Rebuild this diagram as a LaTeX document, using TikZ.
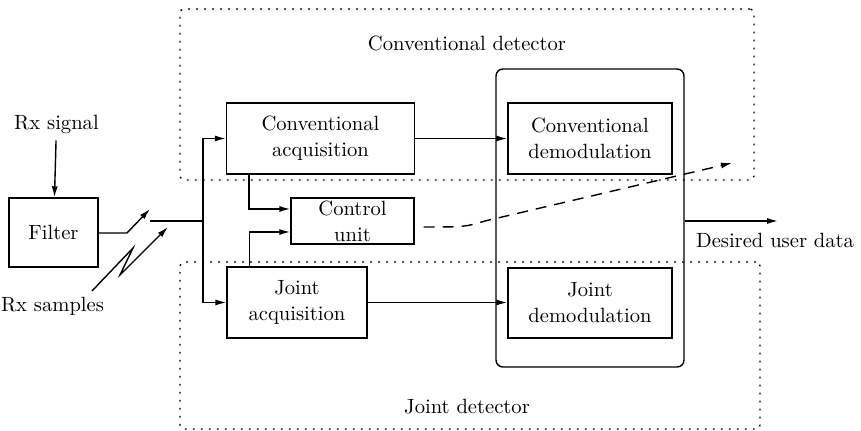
\documentclass[tikz,border=0pt]{standalone}
\usepackage{tikz}
\usetikzlibrary{arrows.meta,positioning}

\begin{document}
\begin{tikzpicture}[
    x=0.5pt, y=-0.5pt,
    font=\fontsize{10.3pt}{13pt}\selectfont,
    blk/.style={draw, line width=0.7pt, align=center, inner sep=0pt},
    det/.style={draw, line width=0.7pt, dash pattern=on 0.9pt off 3.1pt, rounded corners=2pt, inner sep=0pt},
    ln/.style={line width=0.7pt},
    arr/.style={ln, -{Latex[length=5.5pt,width=3pt]}},
    dsh/.style={arr, dash pattern=on 5.5pt off 4pt},
  ]
  \useasboundingbox (0,0) rectangle (861,431);

  % detector regions
  \node[det, minimum width=287pt, minimum height=85.5pt] (convdet) at (467,94.5) {};
  \node[det, minimum width=290pt, minimum height=83.5pt] (jointdet) at (470,345.5) {};
  \node (convlbl) at (467,43) {Conventional detector};
  \node (jointlbl) at (467,407) {Joint detector};

  % front end
  \node (rxsig) at (56.5,124) {Rx signal};
  \node[blk, minimum width=44.5pt, minimum height=34.5pt] (filt) at (53.5,232.5) {Filter};
  \node (rxsmp) at (52.5,306) {Rx samples};

  % acquisition and control
  \node[blk, minimum width=94pt, minimum height=35.5pt] (convacq) at (320.5,138.5) {Conventional\\acquisition};
  \node[blk, minimum width=70pt, minimum height=35.5pt] (jointacq) at (297,302.5) {Joint\\acquisition};
  \node[blk, minimum width=61.5pt, minimum height=23pt] (ctrl) at (352.5,221) {Control\\unit};

  % demodulation
  \node[draw, line width=0.7pt, rounded corners=3.5pt, minimum width=94pt, minimum height=149pt] (dem) at (590,218) {};
  \node[blk, minimum width=82pt, minimum height=35.5pt] (convdem) at (590,138.5) {Conventional\\demodulation};
  \node[blk, minimum width=82pt, minimum height=35pt] (jointdem) at (590,303) {Joint\\demodulation};

  \coordinate (sw) at (127,233);
  \coordinate (swtip) at (150,209);
  \coordinate (busin) at (150,221);
  \coordinate (bus) at (203,221);
  \coordinate (zz0) at (92,291);
  \coordinate (zz1) at (133,248);
  \coordinate (zz2) at (120,275);
  \coordinate (zztip) at (168,227);
  \coordinate (dtip) at (732,163);
  \coordinate (outtip) at (778,221);

  % signal path
  \draw[arr] (rxsig) -- (filt);
  \draw[arr] (filt.east |- sw) -- (sw) -- (swtip);
  \draw[arr] (zz0) -- (zz1) -- (zz2) -- (zztip);
  \draw[ln] (busin) -- (bus);
  \draw[arr] (bus) |- (convacq.west);
  \draw[arr] (bus) |- (jointacq.west);
  \draw[arr] (convacq) -- (convdem);
  \draw[arr] (jointacq.east) -- (jointacq.east -| jointdem.west);
  \draw[arr] ([xshift=11.5pt]convacq.south west) |- ([yshift=6pt]ctrl.west);
  \draw[arr] ([xshift=11.5pt]jointacq.north west) |- ([yshift=-5.5pt]ctrl.west);
  \draw[dsh] ([xshift=4.5pt,yshift=-3pt]ctrl.east) .. controls (465,227) .. (485,221) -- (dtip);

  % output
  \draw[arr] (dem.east |- outtip) -- (outtip);
  \node (outlbl) at (775,240) {Desired user data};

\end{tikzpicture}
\end{document}
